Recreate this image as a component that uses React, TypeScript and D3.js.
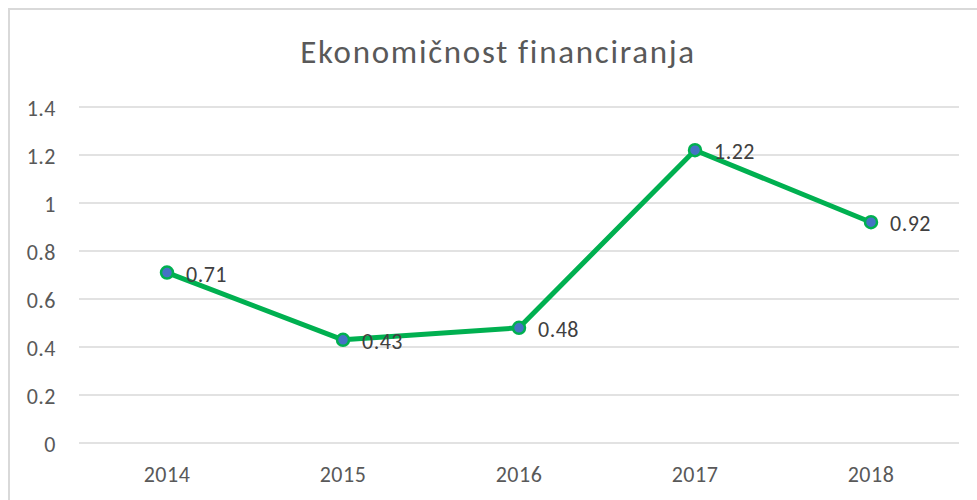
import { useEffect, useRef } from "react";
import * as d3 from "d3";

// ── Data ──────────────────────────────────────────────────────────────────────
const years = ["2014", "2015", "2016", "2017", "2018"];
const values = [0.71, 0.43, 0.48, 1.22, 0.92];
const yTickValues = [0, 0.2, 0.4, 0.6, 0.8, 1, 1.2, 1.4];
const title = "Ekonomičnost financiranja";

export default function App() {
  const svgRef = useRef<SVGSVGElement>(null);

  useEffect(() => {
    if (!svgRef.current) return;

    const width = 977;
    const height = 500;
    const plot = { left: 79, right: 959, top: 107, bottom: 443 };
    const font = "Carlito, Calibri, 'Open Sans', 'Liberation Sans', sans-serif";

    const x = d3
      .scaleBand<string>()
      .domain(years)
      .range([plot.left, plot.right]);
    const y = d3.scaleLinear().domain([0, 1.4]).range([plot.bottom, plot.top]);

    const svg = d3.select(svgRef.current);
    svg.selectAll("*").remove();

    svg.append("rect").attr("width", width).attr("height", height).attr("fill", "#fff");

    // chart frame (runs past the window on the right and bottom)
    svg
      .append("rect")
      .attr("x", 9)
      .attr("y", 9)
      .attr("width", 1000)
      .attr("height", 600)
      .attr("fill", "none")
      .attr("stroke", "#d9d9d9")
      .attr("stroke-width", 2);

    // title
    svg
      .append("text")
      .attr("x", 498)
      .attr("y", 63)
      .attr("text-anchor", "middle")
      .attr("font-family", font)
      .attr("font-size", 33)
      .attr("letter-spacing", 1.7)
      .attr("fill", "#595959")
      .text(title);

    // grid
    svg
      .append("g")
      .selectAll("line")
      .data(yTickValues)
      .enter()
      .append("line")
      .attr("x1", plot.left)
      .attr("x2", plot.right)
      .attr("y1", (d) => y(d))
      .attr("y2", (d) => y(d))
      .attr("stroke", "#d9d9d9")
      .attr("stroke-width", 1.5);

    // y axis labels
    const yAxisG = svg
      .append("g")
      .attr("transform", `translate(${plot.left},0)`)
      .call(
        d3
          .axisLeft(y)
          .tickValues(yTickValues)
          .tickSize(0)
          .tickPadding(23)
          .tickFormat((d) => String(+d))
      );
    yAxisG.select(".domain").remove();
    yAxisG
      .selectAll("text")
      .attr("dy", null)
      .attr("y", 8)
      .attr("font-family", font)
      .attr("font-size", 22)
      .attr("letter-spacing", 0.5)
      .attr("fill", "#595959");

    // x axis labels
    const xAxisG = svg
      .append("g")
      .attr("transform", `translate(0,${plot.bottom})`)
      .call(d3.axisBottom(x).tickSize(0));
    xAxisG.select(".domain").remove();
    xAxisG
      .selectAll("text")
      .attr("dy", null)
      .attr("y", 39)
      .attr("font-family", font)
      .attr("font-size", 22)
      .attr("letter-spacing", 0.5)
      .attr("fill", "#595959");

    const cx = (d: string) => (x(d) as number) + x.bandwidth() / 2;

    // line
    const line = d3
      .line<number>()
      .x((_, i) => cx(years[i]))
      .y((d) => y(d));
    svg
      .append("path")
      .datum(values)
      .attr("d", line)
      .attr("fill", "none")
      .attr("stroke", "#00b050")
      .attr("stroke-width", 5)
      .attr("stroke-linejoin", "round");

    // markers
    svg
      .append("g")
      .selectAll("circle")
      .data(values)
      .enter()
      .append("circle")
      .attr("cx", (_, i) => cx(years[i]))
      .attr("cy", (d) => y(d))
      .attr("r", 6)
      .attr("fill", "#4472c4")
      .attr("stroke", "#00b050")
      .attr("stroke-width", 2.5);

    // data labels
    svg
      .append("g")
      .selectAll("text")
      .data(values)
      .enter()
      .append("text")
      .attr("x", (_, i) => cx(years[i]) + 19)
      .attr("y", (d) => y(d) + 9)
      .attr("font-family", font)
      .attr("font-size", 22)
      .attr("letter-spacing", 0.5)
      .attr("fill", "#404040")
      .text((d) => String(d));
  }, []);

  return (
    <svg
      ref={svgRef}
      width={977}
      height={500}
      style={{ position: "absolute", left: 0, top: 0 }}
    />
  );
}
